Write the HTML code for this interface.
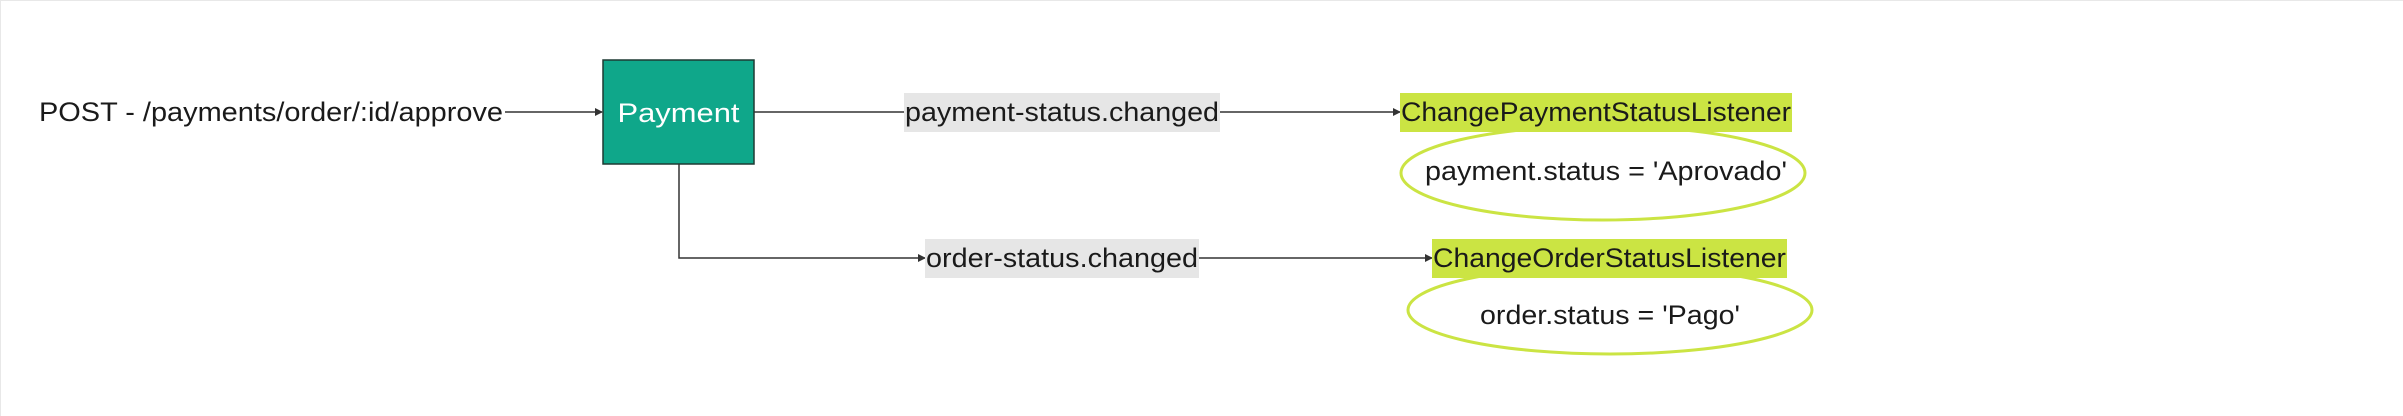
<!DOCTYPE html>
<html><head><meta charset="utf-8"><style>html,body{margin:0;padding:0;background:#fff}svg{display:block}text{font-family:"Liberation Sans",sans-serif;font-size:27px;fill:#1a1a1a}</style></head>
<body>
<svg width="2403" height="416" viewBox="0 0 2403 416">
<defs><marker id="ah" markerWidth="8" markerHeight="8" refX="7" refY="4" orient="auto" markerUnits="userSpaceOnUse"><path d="M0,0 L8,4 L0,8 Z" fill="#333"/></marker></defs>
<path d="M0.5,416 L0.5,0.5 L2403,0.5" fill="none" stroke="#e8e8e8"/>
<text x="39" y="121" textLength="464" lengthAdjust="spacingAndGlyphs">POST - /payments/order/:id/approve</text>
<line x1="505" y1="112" x2="602" y2="112" stroke="#333" stroke-width="1.5" marker-end="url(#ah)"/>
<rect x="603" y="60" width="151" height="104" fill="#0fa78a" stroke="#1f3a33" stroke-width="1.5"/>
<text x="678.5" y="122" text-anchor="middle" style="fill:#fff" textLength="122" lengthAdjust="spacingAndGlyphs">Payment</text>
<line x1="754" y1="112" x2="904" y2="112" stroke="#333" stroke-width="1.5"/>
<rect x="904" y="93" width="316" height="39" fill="#e6e6e6"/>
<text x="905" y="121" textLength="314" lengthAdjust="spacingAndGlyphs">payment-status.changed</text>
<line x1="1220" y1="112" x2="1400" y2="112" stroke="#333" stroke-width="1.5" marker-end="url(#ah)"/>
<ellipse cx="1603" cy="173" rx="202" ry="47" fill="#fff" stroke="#cbe443" stroke-width="3"/>
<rect x="1400" y="93" width="392" height="39" fill="#cbe443"/>
<text x="1401" y="121" textLength="390" lengthAdjust="spacingAndGlyphs">ChangePaymentStatusListener</text>
<text x="1425" y="180" textLength="362" lengthAdjust="spacingAndGlyphs">payment.status = 'Aprovado'</text>
<polyline points="679,164 679,258 925,258" fill="none" stroke="#333" stroke-width="1.5" marker-end="url(#ah)"/>
<rect x="925" y="239" width="274" height="39" fill="#e6e6e6"/>
<text x="926" y="267" textLength="272" lengthAdjust="spacingAndGlyphs">order-status.changed</text>
<line x1="1199" y1="258" x2="1432" y2="258" stroke="#333" stroke-width="1.5" marker-end="url(#ah)"/>
<ellipse cx="1610" cy="310" rx="202" ry="44" fill="#fff" stroke="#cbe443" stroke-width="3"/>
<rect x="1432" y="239" width="355" height="39" fill="#cbe443"/>
<text x="1433" y="267" textLength="353" lengthAdjust="spacingAndGlyphs">ChangeOrderStatusListener</text>
<text x="1480" y="324" textLength="260" lengthAdjust="spacingAndGlyphs">order.status = 'Pago'</text>
</svg>
</body></html>
